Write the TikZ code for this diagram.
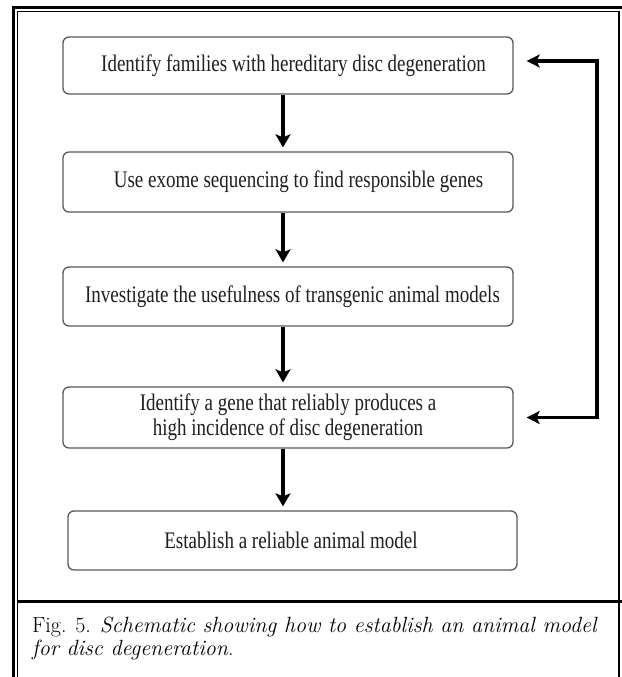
\documentclass[tikz,border=0pt]{standalone}
\usepackage{graphicx}
\usepackage{fontspec}
\setmainfont{Liberation Serif}
\newfontfamily\capfont{Latin Modern Roman}
\usetikzlibrary{arrows.meta}
\newcommand\vstr[1]{\scalebox{1}[1.25]{#1}}
\tikzset{
  stepbox/.style={draw=black!65, line width=1.3pt, rounded corners=6pt,
    minimum width=450pt, inner sep=0pt, text=black!88,
    font=\fontsize{19}{20}\selectfont},
  flow/.style={line width=3.6pt, draw=black,
    -{Stealth[length=13pt,width=15pt,inset=3pt]}},
  feedback/.style={line width=3.2pt, draw=black,
    {Stealth[length=13pt,width=13pt,inset=3pt]}-{Stealth[length=13pt,width=13pt,inset=3pt]}},
  thickframe/.style={line width=3pt, draw=black},
  thinframe/.style={line width=1.2pt, draw=black},
  captext/.style={anchor=base west, inner sep=0pt, text=black,
    font=\capfont\fontsize{22}{24}\selectfont},
}
\begin{document}
\begin{tikzpicture}[x=1pt,y=-1pt]
\useasboundingbox (0,0) rectangle (621,677);
% frame
\draw[thickframe] (13.5,680) -- (13.5,8) -- (622,8);
\draw[thinframe] (17.5,680) -- (17.5,11.5) -- (619,11.5) -- (619,680);
\draw[thickframe] (17.5,601) -- (622,601);
% boxes
\node[stepbox, minimum height=57pt] (b1) at (288,65.5)
  {\vstr{\hspace*{11pt}Identify families with hereditary disc degeneration}};
\node[stepbox, minimum height=60pt] (b2) at (288,182)
  {\vstr{\hspace*{21pt}Use exome sequencing to find responsible genes}};
\node[stepbox, minimum height=59pt] (b3) at (288,296.5)
  {\vstr{\hspace*{9pt}Investigate the usefulness of transgenic animal models}};
\node[stepbox, minimum height=61pt] (b4) at (288,417.5)
  {\vstr{\begin{tabular}{@{}c@{}}Identify a gene that reliably produces a\\ high incidence of disc degeneration\end{tabular}}};
\node[stepbox, minimum height=59pt, minimum width=449pt] (b5) at (292.5,540.5)
  {\vstr{\hspace*{-3pt}Establish a reliable animal model}};
% down arrows
\coordinate (ax) at (283,0);
\draw[flow, shorten >=4pt] (b1.south -| ax) -- (b2.north -| ax);
\draw[flow, shorten >=4pt] (b2.south -| ax) -- (b3.north -| ax);
\draw[flow, shorten >=4pt] (b3.south -| ax) -- (b4.north -| ax);
\draw[flow, shorten >=4pt] (b4.south -| ax) -- (b5.north -| ax);
% feedback loop
\coordinate (fx) at (597,0);
\draw[feedback] ([xshift=13pt]b4.east) -- (b4.east -| fx)
  |- ([xshift=13pt,yshift=4.5pt]b1.east);
% caption
\node[captext] (cap1) at (32,632)
  {Fig. 5. \textit{Schematic showing how to establish an animal model}};
\node[captext] (cap2) at (32,655)
  {\textit{for disc degeneration}.};
\end{tikzpicture}
\end{document}
